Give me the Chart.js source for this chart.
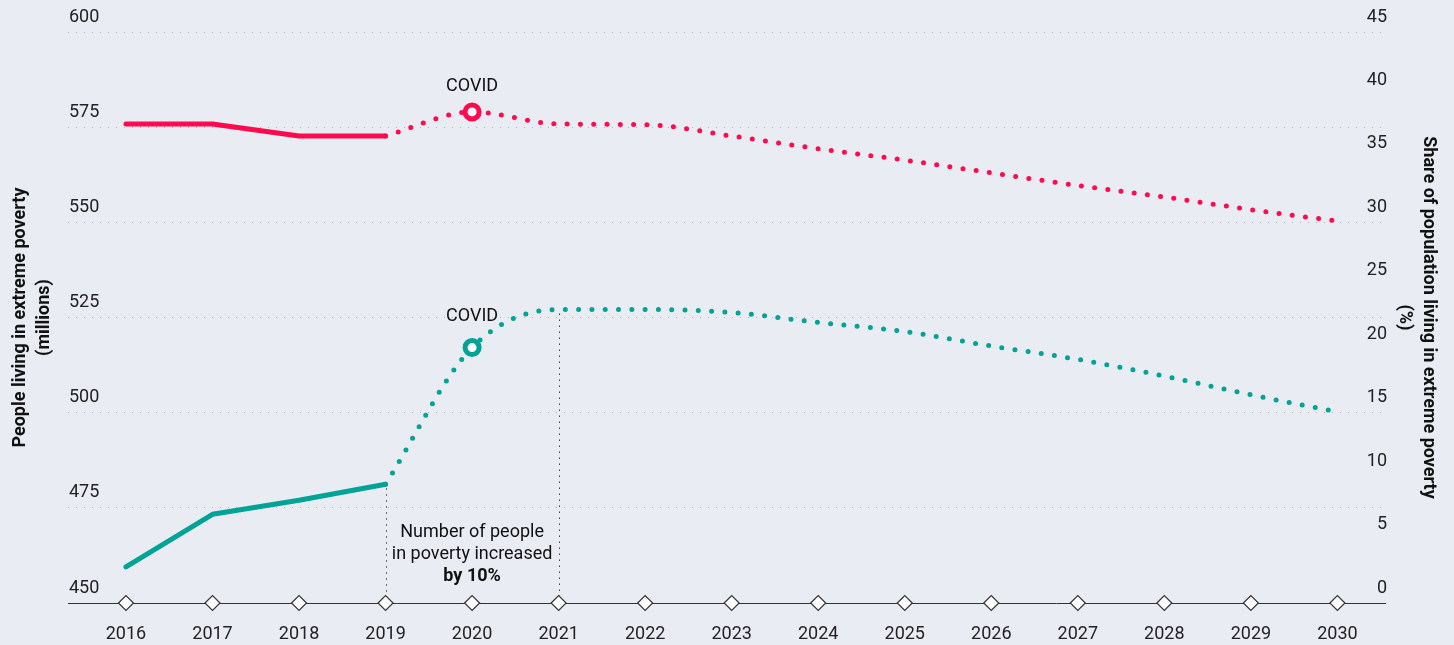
<!DOCTYPE html>
<html>
<head>
<meta charset="utf-8">
<script src="https://cdn.jsdelivr.net/npm/chart.js@4.4.1/dist/chart.umd.min.js"></script>
<style>
  html, body { margin: 0; padding: 0; background: #e9ecf3; }
  #wrap { width: 1454px; height: 645px; position: relative; }
</style>
</head>
<body>
<div id="wrap"><canvas id="chart"></canvas></div>
<script>
const years = [2016, 2017, 2018, 2019, 2020, 2021, 2022, 2023, 2024, 2025, 2026, 2027, 2028, 2029, 2030];
// people living in extreme poverty, millions (left axis)
const peopleMillions = [459.5, 473.3, 477.0, 481.2, 517.1, 527.1, 527.1, 526.3, 523.7, 521.3, 517.5, 514.0, 509.6, 504.7, 500.2];
// share of population in extreme poverty, % (right axis)
const sharePercent = [37.75, 37.75, 36.8, 36.8, 38.7, 37.75, 37.7, 36.8, 35.8, 34.9, 33.9, 32.9, 32.0, 31.0, 30.1];
const peopleTicks = [450, 475, 500, 525, 550, 575, 600];
const shareTicks = [0, 5, 10, 15, 20, 25, 30, 35, 40, 45];
const lastActual = 3;   // 2019, solid up to here, projection after
const covidIndex = 4;   // 2020
const noteLines = ['Number of people', 'in poverty increased', 'by 10%'];

const RED = '#ff0a4e';
const TEAL = '#00a396';
const FONT = 'Roboto, "Noto Sans", sans-serif';

const pts = (vals) => vals.map((v, i) => ({ x: years[i], y: v }));

function solidPart(vals, color, axis) {
  return {
    data: pts(vals).map((p, i) => (i <= lastActual ? p : { x: p.x, y: null })),
    yAxisID: axis,
    borderColor: color,
    borderWidth: 5,
    borderCapStyle: 'round',
    borderJoinStyle: 'round',
    pointRadius: 0,
    tension: 0,
  };
}

function projectedPart(vals, color, axis) {
  return {
    data: pts(vals).map((p, i) => (i >= lastActual ? p : { x: p.x, y: null })),
    yAxisID: axis,
    borderColor: color,
    borderWidth: 5,
    borderCapStyle: 'round',
    borderDash: [0, 13.3],
    cubicInterpolationMode: 'monotone',
    pointRadius: years.map((_, i) => (i === covidIndex ? 7 : 0)),
    pointBackgroundColor: '#ffffff',
    pointBorderColor: color,
    pointBorderWidth: 5,
  };
}

const annotations = {
  id: 'annotations',
  beforeDatasetsDraw(chart) {
    const { ctx, scales } = chart;
    const x = scales.x;
    const y = scales.yPeople;
    ctx.save();
    ctx.strokeStyle = '#444';
    ctx.lineWidth = 1;
    ctx.setLineDash([1.5, 4.5]);
    [lastActual, covidIndex + 1].forEach((i) => {
      const px = Math.round(x.getPixelForValue(years[i])) + 0.5;
      ctx.beginPath();
      ctx.moveTo(px, y.getPixelForValue(peopleMillions[i]) + 4);
      ctx.lineTo(px, y.bottom);
      ctx.stroke();
    });
    ctx.restore();
  },
  afterDatasetsDraw(chart) {
    const { ctx, scales } = chart;
    const x = scales.x;
    const cx = x.getPixelForValue(years[covidIndex]);
    ctx.save();
    ctx.fillStyle = '#111';
    ctx.textAlign = 'center';
    ctx.textBaseline = 'middle';
    ctx.font = `18px ${FONT}`;
    ctx.fillText('COVID', cx, scales.yShare.getPixelForValue(sharePercent[covidIndex]) - 25);
    ctx.fillText('COVID', cx, scales.yPeople.getPixelForValue(peopleMillions[covidIndex]) - 31);

    const nx = (x.getPixelForValue(years[lastActual]) + x.getPixelForValue(years[covidIndex + 1])) / 2;
    const base = scales.yPeople.bottom - 71;
    noteLines.forEach((line, i) => {
      ctx.font = (i === noteLines.length - 1 ? 'bold ' : '') + `18px ${FONT}`;
      ctx.fillText(line, nx, base + i * 22.3);
    });
    ctx.restore();
  },
};

const tickFont = { family: FONT, size: 18 };
const titleFont = { family: FONT, size: 18, weight: 'bold', lineHeight: 1.35 };

new Chart(document.getElementById('chart'), {
  type: 'line',
  data: {
    datasets: [
      {
        data: years.map((v) => ({ x: v, y: peopleTicks[0] })),
        yAxisID: 'yPeople',
        showLine: false,
        pointStyle: 'rectRot',
        pointRadius: 7.5,
        pointBackgroundColor: '#ffffff',
        pointBorderColor: '#333333',
        pointBorderWidth: 1.2,
        clip: false,
      },
      projectedPart(sharePercent, RED, 'yShare'),
      solidPart(sharePercent, RED, 'yShare'),
      projectedPart(peopleMillions, TEAL, 'yPeople'),
      solidPart(peopleMillions, TEAL, 'yPeople'),
    ],
  },
  options: {
    responsive: true,
    maintainAspectRatio: false,
    animation: false,
    events: [],
    layout: { padding: { top: 32 } },
    plugins: { legend: { display: false }, tooltip: { enabled: false } },
    scales: {
      x: {
        type: 'linear',
        min: 2015.33,
        max: 2030.55,
        afterBuildTicks: (s) => { s.ticks = years.map((v) => ({ value: v })); },
        afterFit: (s) => { s.height = 42; },
        grid: { display: false },
        border: { display: true, color: '#333', width: 1 },
        ticks: { padding: 13, color: '#222', font: tickFont, autoSkip: false, maxRotation: 0, callback: (v) => String(v) },
      },
      yPeople: {
        position: 'left',
        min: 450,
        max: 600,
        afterBuildTicks: (s) => { s.ticks = peopleTicks.map((v) => ({ value: v })); },
        afterFit: (s) => { s.width = 68; },
        grid: {
          color: (c) => (c.tick && c.tick.value === peopleTicks[0] ? 'rgba(0,0,0,0)' : '#b0b3ba'),
          lineWidth: 1,
          drawTicks: false,
        },
        border: { display: false, dash: [1, 7] },
        ticks: { mirror: true, padding: 1, labelOffset: -15, color: '#222', font: tickFont, callback: (v) => String(v) },
        title: {
          display: true,
          text: ['People living in extreme poverty', '(millions)'],
          color: '#111',
          font: titleFont,
          padding: { top: 8, bottom: 0 },
        },
      },
      yShare: {
        position: 'right',
        min: 0,
        max: 45,
        afterBuildTicks: (s) => { s.ticks = shareTicks.map((v) => ({ value: v })); },
        afterFit: (s) => { s.width = 69; },
        grid: { display: false, drawTicks: false },
        border: { display: false },
        ticks: { mirror: true, padding: 2, labelOffset: -15, color: '#222', font: tickFont, callback: (v) => String(v) },
        title: {
          display: true,
          text: ['Share of population living in extreme poverty', '(%)'],
          color: '#111',
          font: titleFont,
          padding: { top: 13, bottom: 0 },
        },
      },
    },
  },
  plugins: [annotations],
});
</script>
</body>
</html>
